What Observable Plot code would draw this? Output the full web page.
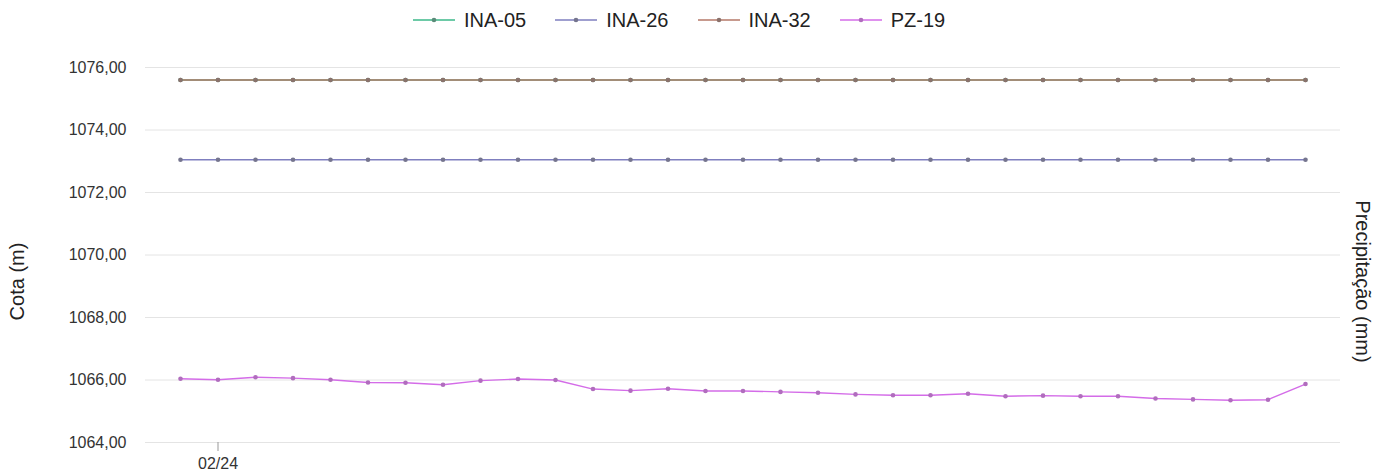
<!DOCTYPE html>
<html>
<head>
<meta charset="utf-8">
<script src="https://cdn.jsdelivr.net/npm/d3@7"></script>
<script src="https://cdn.jsdelivr.net/npm/@observablehq/plot@0.6"></script>
<style>
  html, body { margin: 0; padding: 0; background: #fff; overflow: hidden; }
  #wrap { position: relative; width: 1390px; height: 475px; font-family: "Liberation Sans", Arial, sans-serif; }
  #legend { position: absolute; left: 413px; top: 5px; height: 30px; display: flex; align-items: center; font-size: 20px; color: #222; }
  .item { display: flex; align-items: center; margin-right: 29px; }
  .item svg { margin-right: 9px; }
  .ytitle { position: absolute; white-space: nowrap; font-size: 20px; color: #222; transform-origin: center center; }
</style>
</head>
<body>
<div id="wrap">
  <div id="chart"></div>
  <div id="legend"></div>
  <div class="ytitle" id="yl">Cota (m)</div>
  <div class="ytitle" id="yr">Precipitação (mm)</div>
</div>
<script>
const dates = [
  "2024-01-31","2024-02-01","2024-02-02","2024-02-03","2024-02-04","2024-02-05","2024-02-06","2024-02-07",
  "2024-02-08","2024-02-09","2024-02-10","2024-02-11","2024-02-12","2024-02-13","2024-02-14","2024-02-15",
  "2024-02-16","2024-02-17","2024-02-18","2024-02-19","2024-02-20","2024-02-21","2024-02-22","2024-02-23",
  "2024-02-24","2024-02-25","2024-02-26","2024-02-27","2024-02-28","2024-02-29","2024-03-01"
];
const seriesNames = ["INA-05", "INA-26", "INA-32", "PZ-19"];
const ina05 = [1075.60,1075.60,1075.60,1075.60,1075.60,1075.60,1075.60,1075.60,1075.60,1075.60,1075.60,
  1075.60,1075.60,1075.60,1075.60,1075.60,1075.60,1075.60,1075.60,1075.60,1075.60,1075.60,1075.60,1075.60,
  1075.60,1075.60,1075.60,1075.60,1075.60,1075.60,1075.60];
const ina26 = [1073.05,1073.05,1073.05,1073.05,1073.05,1073.05,1073.05,1073.05,1073.05,1073.05,1073.05,
  1073.05,1073.05,1073.05,1073.05,1073.05,1073.05,1073.05,1073.05,1073.05,1073.05,1073.05,1073.05,1073.05,
  1073.05,1073.05,1073.05,1073.05,1073.05,1073.05,1073.05];
const ina32 = [1075.60,1075.60,1075.60,1075.60,1075.60,1075.60,1075.60,1075.60,1075.60,1075.60,1075.60,
  1075.60,1075.60,1075.60,1075.60,1075.60,1075.60,1075.60,1075.60,1075.60,1075.60,1075.60,1075.60,1075.60,
  1075.60,1075.60,1075.60,1075.60,1075.60,1075.60,1075.60];
const pz19 = [1066.04,1066.01,1066.09,1066.06,1066.01,1065.92,1065.91,1065.85,1065.98,1066.03,1066.00,
  1065.71,1065.66,1065.72,1065.65,1065.65,1065.62,1065.59,1065.54,1065.51,1065.51,1065.56,1065.48,1065.50,
  1065.48,1065.48,1065.41,1065.38,1065.35,1065.37,1065.87];
const yTicks = [1064, 1066, 1068, 1070, 1072, 1074, 1076];
const xTicks = ["2024-02-01"];
const colors = ["#3cb88a", "#7f7fbf", "#b47868", "#d46ce8"];

const valuesBySeries = [ina05, ina26, ina32, pz19];
const data = [];
seriesNames.forEach((s, i) => {
  valuesBySeries[i].forEach((v, j) => data.push({series: s, date: new Date(dates[j]), value: v}));
});
const colorOf = Object.fromEntries(seriesNames.map((s, i) => [s, colors[i]]));
const dotColor = s => d3.interpolateRgb(colorOf[s], "#6e6e6e")(s === "PZ-19" ? 0.35 : 0.6);

const chart = Plot.plot({
  width: 1390,
  height: 475,
  marginTop: 67,
  marginBottom: 33,
  marginLeft: 145,
  marginRight: 50,
  style: {fontFamily: "Liberation Sans, Arial, sans-serif", fontSize: "16px", color: "#333", background: "white"},
  x: {type: "utc", domain: [new Date(dates[0]), new Date(dates[dates.length - 1])], insetLeft: 35, insetRight: 35},
  y: {domain: [1064, 1076]},
  color: {domain: seriesNames, range: colors},
  marks: [
    Plot.ruleY(yTicks, {stroke: "#e4e4e4", strokeWidth: 1}),
    Plot.axisY({ticks: yTicks, tickSize: 0, tickPadding: 19, label: null,
      tickFormat: d => d.toFixed(2).replace(".", ","), fontSize: 16}),
    Plot.axisX({ticks: xTicks.map(d => new Date(d)), tickSize: 9, tickPadding: 6, label: null,
      tickFormat: d3.utcFormat("%m/%y"), fontSize: 16, stroke: "#999"}),
    Plot.line(data, {x: "date", y: "value", z: "series", stroke: "series", strokeWidth: 1.4}),
    Plot.dot(data, {x: "date", y: "value", r: 2.3, fill: d => dotColor(d.series), stroke: "none"})
  ]
});
document.getElementById("chart").appendChild(chart);

// legend
const legend = document.getElementById("legend");
seriesNames.forEach((s, i) => {
  const item = document.createElement("div");
  item.className = "item";
  item.innerHTML = `<svg width="42" height="12"><line x1="0" x2="42" y1="6" y2="6" stroke="${colors[i]}" stroke-width="1.5"/>` +
    `<circle cx="21" cy="6" r="2.3" fill="${dotColor(s)}"/></svg><span>${s}</span>`;
  legend.appendChild(item);
});

// axis titles
function place(el, cx, cy, angle) {
  const w = el.offsetWidth, h = el.offsetHeight;
  el.style.left = (cx - w / 2) + "px";
  el.style.top = (cy - h / 2) + "px";
  el.style.transform = `rotate(${angle}deg)`;
}
place(document.getElementById("yl"), 18, 281, -90);
place(document.getElementById("yr"), 1362, 281, 90);
</script>
</body>
</html>
